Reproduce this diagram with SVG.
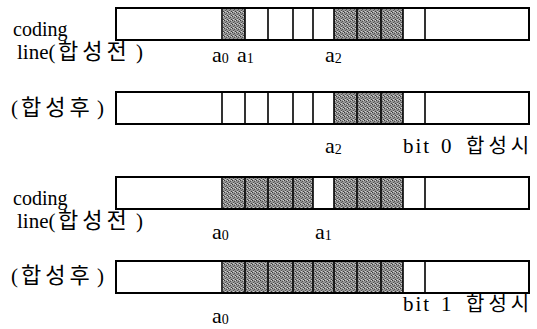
<svg xmlns="http://www.w3.org/2000/svg" width="537" height="329" viewBox="0 0 537 329">
<defs>
<pattern id="dots" width="4" height="4" patternUnits="userSpaceOnUse">
<rect width="4" height="4" fill="#959595"/>
<rect x="0" y="0" width="1" height="1" fill="#3c3c3c"/>
<rect x="2" y="1" width="1" height="1" fill="#505050"/>
<rect x="1" y="2" width="1" height="1" fill="#555"/>
<rect x="3" y="3" width="1" height="1" fill="#3c3c3c"/>
<rect x="3" y="0" width="1" height="1" fill="#d0d0d0"/>
<rect x="1" y="3" width="1" height="1" fill="#d0d0d0"/>
</pattern>
</defs>
<style>
text{font-family:"Liberation Serif","Noto Sans CJK KR",serif;fill:#000}
.lbl{font-size:21px}
.cd{font-size:20px}
.ko{font-size:22px;font-family:"Noto Sans CJK KR",sans-serif;letter-spacing:4px}
.ko1{font-size:22px;font-family:"Noto Sans CJK KR",sans-serif;letter-spacing:4px}
.ko2{font-size:20px;font-family:"Noto Sans CJK KR",sans-serif;letter-spacing:4px}
.a{font-size:22px}
.sub{font-size:14px}
.bar{fill:#fff;stroke:#000;stroke-width:2}
.sh{fill:url(#dots);stroke:none}
.div{stroke:#000;stroke-width:1.6;fill:none}
</style>

<g id="row1">
<rect class="bar" x="116" y="8" width="413" height="32"/>
<rect class="sh" x="223" y="9" width="22" height="30"/>
<rect class="sh" x="334" y="9" width="69" height="30"/>
<path class="div" d="M222 8V40M245 8V40M268 8V40M293 8V40M313 8V40M334 8V40M357 8V40M381 8V40M403 8V40M425 8V40"/>
<text class="cd" x="13" y="36">coding</text>
<text class="lbl" x="17" y="59">line(<tspan class="ko" x="58">합성전</tspan><tspan x="136">)</tspan></text>
<text class="a" x="212" y="62">a<tspan class="sub" dy="1">0</tspan><tspan x="237" dy="-1">a</tspan><tspan class="sub" dy="1">1</tspan></text>
<text class="a" x="325" y="62">a<tspan class="sub" dy="1">2</tspan></text>
</g>

<g id="row2">
<rect class="bar" x="116" y="92" width="413" height="32"/>
<rect class="sh" x="334" y="93" width="69" height="30"/>
<path class="div" d="M222 92V124M245 92V124M268 92V124M293 92V124M313 92V124M334 92V124M357 92V124M381 92V124M403 92V124M425 92V124"/>
<text class="lbl" x="11" y="115">(<tspan class="ko1" x="21">합성후</tspan><tspan x="97">)</tspan></text>
<text class="a" x="325" y="153">a<tspan class="sub" dy="1">2</tspan></text>
<text class="lbl" x="403" y="153"><tspan style="letter-spacing:2px">bit</tspan><tspan x="441">0</tspan><tspan class="ko2" x="466">합성시</tspan></text>
</g>

<g id="row3">
<rect class="bar" x="116" y="177" width="413" height="32"/>
<rect class="sh" x="223" y="178" width="90" height="30"/>
<rect class="sh" x="334" y="178" width="69" height="30"/>
<path class="div" d="M222 177V209M245 177V209M268 177V209M293 177V209M313 177V209M334 177V209M357 177V209M381 177V209M403 177V209M425 177V209"/>
<text class="cd" x="13" y="205">coding</text>
<text class="lbl" x="17" y="228">line(<tspan class="ko" x="58">합성전</tspan><tspan x="136">)</tspan></text>
<text class="a" x="212" y="239">a<tspan class="sub" dy="1">0</tspan></text>
<text class="a" x="315" y="239">a<tspan class="sub" dy="1">1</tspan></text>
</g>

<g id="row4">
<rect class="bar" x="116" y="261" width="413" height="32"/>
<rect class="sh" x="223" y="262" width="180" height="30"/>
<path class="div" d="M222 261V293M245 261V293M268 261V293M293 261V293M313 261V293M334 261V293M357 261V293M381 261V293M403 261V293M425 261V293"/>
<text class="lbl" x="11" y="283">(<tspan class="ko1" x="21">합성후</tspan><tspan x="97">)</tspan></text>
<text class="lbl" x="403" y="311"><tspan style="letter-spacing:2px">bit</tspan><tspan x="441">1</tspan><tspan class="ko2" x="466">합성시</tspan></text>
<text class="a" x="212" y="323">a<tspan class="sub" dy="1">0</tspan></text>
</g>
</svg>
